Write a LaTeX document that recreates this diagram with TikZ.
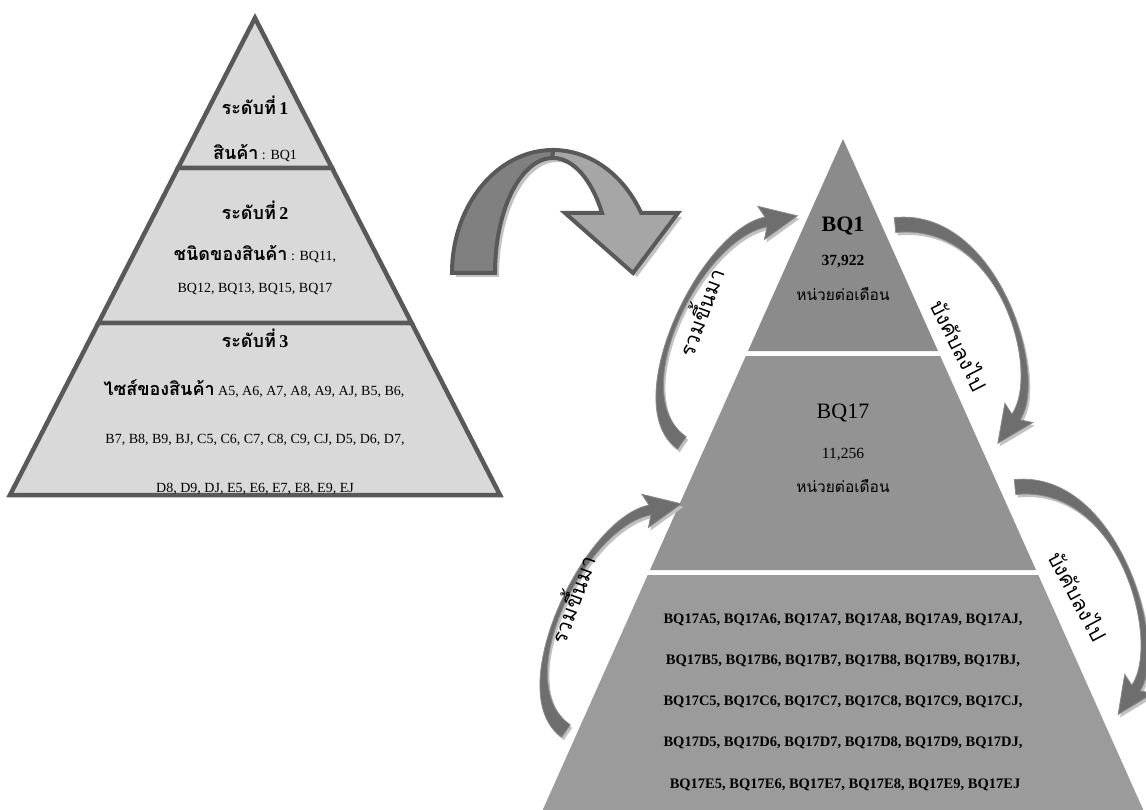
\documentclass[tikz,border=0pt]{standalone}
\usepackage{fontspec}
\setmainfont{Liberation Serif}
\newfontfamily\thaifont[Script=Thai]{Loma}
\usetikzlibrary{calc}

\definecolor{edgegray}{HTML}{595959}
\definecolor{lightfill}{HTML}{D9D9D9}
\definecolor{tierA}{HTML}{8B8B8B}
\definecolor{tierB}{HTML}{939393}
\definecolor{tierC}{HTML}{9B9B9B}
\definecolor{bendback}{HTML}{808080}
\definecolor{bendfront}{HTML}{A6A6A6}
\definecolor{softshadow}{HTML}{C2C2C2}
\definecolor{loopfill}{HTML}{6E6E6E}
\definecolor{loopedge}{HTML}{8C8C8C}

% Thai text sizes
\newcommand\thaihead{\thaifont\bfseries\fontsize{18}{21}\selectfont}
\newcommand\thaismall{\thaifont\fontsize{15.5}{18}\selectfont}
\newcommand\thailoop{\thaifont\fontsize{21}{24}\selectfont}

% tapered curved arrow: #1 prefix, #2..#5 Bezier points (last one = base of head)
\newcommand\loopingarrow[5]{%
  \coordinate (#1p0) at #2;
  \coordinate (#1p1) at #3;
  \coordinate (#1p2) at #4;
  \coordinate (#1p3) at #5;
  \coordinate (#1a0) at ($(#1p0)!7.5pt!90:(#1p1)$);
  \coordinate (#1a1) at ($(#1p1)!7.5pt!-90:(#1p0)$);
  \coordinate (#1a2) at ($(#1p2)!5pt!90:(#1p3)$);
  \coordinate (#1a3) at ($(#1p3)!5pt!-90:(#1p2)$);
  \coordinate (#1b0) at ($(#1p0)!7.5pt!-90:(#1p1)$);
  \coordinate (#1b1) at ($(#1p1)!7.5pt!90:(#1p0)$);
  \coordinate (#1b2) at ($(#1p2)!5pt!-90:(#1p3)$);
  \coordinate (#1b3) at ($(#1p3)!5pt!90:(#1p2)$);
  \coordinate (#1tip) at ($(#1p3)!-32pt!(#1p2)$);
  \coordinate (#1bk) at ($(#1p3)!5pt!(#1p2)$);
  \coordinate (#1h1) at ($(#1bk)!17pt!-90:(#1p2)$);
  \coordinate (#1h2) at ($(#1bk)!17pt!90:(#1p2)$);
  \begin{scope}[transform canvas={shift={(2pt,-3pt)}}]
    \fill[softshadow] (#1a0) .. controls (#1a1) and (#1a2) .. (#1a3) -- (#1h1) -- (#1tip)
      -- (#1h2) -- (#1b3) .. controls (#1b2) and (#1b1) .. (#1b0) -- cycle;
  \end{scope}
  \filldraw[loopfill, draw=loopedge, line width=0.8pt, line join=miter]
    (#1a0) .. controls (#1a1) and (#1a2) .. (#1a3) -- (#1h1) -- (#1tip)
    -- (#1h2) -- (#1b3) .. controls (#1b2) and (#1b1) .. (#1b0) -- cycle;
}

\tikzset{
  level/.style={fill=lightfill, draw=edgegray, line width=4.5pt, line join=miter},
  txt/.style={anchor=base, inner sep=0pt, font=\fontsize{14}{16}\selectfont},
  bigid/.style={anchor=base, inner sep=0pt, font=\fontsize{22}{24}\selectfont},
  qty/.style={anchor=base, inner sep=0pt, font=\fontsize{15.5}{18}\selectfont},
  sku/.style={anchor=base, inner sep=0pt, font=\bfseries\fontsize{14.5}{16}\selectfont},
  looplabel/.style={inner sep=0pt, font=\thailoop},
}

\begin{document}
\begin{tikzpicture}[x=1pt,y=-1pt]
\useasboundingbox (0,0) rectangle (1146,810);

% ---------- three-level product hierarchy (left) ----------
\coordinate (lA) at (255,18);
\coordinate (lBl) at (178,168);  \coordinate (lBr) at (332,168);
\coordinate (lCl) at (98.4,323); \coordinate (lCr) at (411.6,323);
\coordinate (lDl) at (10,495);   \coordinate (lDr) at (500,495);
\draw[level] (lCl) -- (lCr) -- (lDr) -- (lDl) -- cycle;
\draw[level] (lBl) -- (lBr) -- (lCr) -- (lCl) -- cycle;
\draw[level] (lA) -- (lBr) -- (lBl) -- cycle;

\node[txt] (lv1) at (255,115) {{\thaihead ระดับที่} \textbf{\fontsize{18}{21}\selectfont 1}};
\node[txt] (lv1t) at (255,160) {{\thaihead สินค้า} : BQ1};
\node[txt] (lv2) at (255,220) {{\thaihead ระดับที่} \textbf{\fontsize{18}{21}\selectfont 2}};
\node[txt] (lv2t) at (255,261) {{\thaihead ชนิดของสินค้า} : BQ11,};
\node[txt] (lv2u) at (255,293) {BQ12, BQ13, BQ15, BQ17};
\node[txt] (lv3) at (255,348) {{\thaihead ระดับที่} \textbf{\fontsize{18}{21}\selectfont 3}};
\node[txt] (lv3t) at (254,395) {{\thaihead ไซส์ของสินค้า} A5, A6, A7, A8, A9, AJ, B5, B6,};
\node[txt] (lv3u) at (255,443) {B7, B8, B9, BJ, C5, C6, C7, C8, C9, CJ, D5, D6, D7,};
\node[txt] (lv3v) at (255,492) {D8, D9, DJ, E5, E6, E7, E8, E9, EJ};

% ---------- twisted arrow between the two pyramids ----------
\begin{scope}[shift={(4,4)}]
  \fill[softshadow] (452,273) arc[start angle=180, end angle=270, x radius=101, y radius=123]
    -- (553,158) arc[start angle=270, end angle=180, x radius=58, y radius=115] -- cycle;
  \fill[softshadow] (553,150) arc[start angle=270, end angle=330.8, x radius=101, y radius=123]
    -- (678,213) -- (633,273) -- (565,213) -- (602,213)
    arc[start angle=328.6, end angle=270, x radius=58, y radius=115] -- cycle;
\end{scope}
\filldraw[fill=bendback, draw=edgegray, line width=4pt, line join=miter]
  (452,273) arc[start angle=180, end angle=270, x radius=101, y radius=123]
  -- (553,158) arc[start angle=270, end angle=180, x radius=58, y radius=115] -- cycle;
\filldraw[fill=bendfront, draw=edgegray, line width=4pt, line join=miter]
  (553,150) arc[start angle=270, end angle=330.8, x radius=101, y radius=123]
  -- (678,213) -- (633,273) -- (565,213) -- (602,213)
  arc[start angle=328.6, end angle=270, x radius=58, y radius=115] -- cycle;

% ---------- forecast pyramid (right) ----------
\coordinate (rA) at (843,139);
\fill[tierA] (rA) -- (938,351) -- (748,351) -- cycle;
\fill[tierB] (745.8,356) -- (940.2,356) -- (1036,570) -- (650,570) -- cycle;
\fill[tierC] (647.7,575) -- (1038.3,575) -- (1146,816) -- (540,816) -- cycle;

\node[bigid, font=\bfseries\fontsize{22}{24}\selectfont] (bq1) at (843,232) {BQ1};
\node[qty, font=\bfseries\fontsize{15.5}{18}\selectfont] (bq1n) at (843,266) {37,922};
\node[anchor=base, inner sep=0pt] (bq1u) at (843,301) {\thaismall หน่วยต่อเดือน};
\node[bigid] (bq17) at (843,418) {BQ17};
\node[qty] (bq17n) at (843,458) {11,256};
\node[anchor=base, inner sep=0pt] (bq17u) at (843,492) {\thaismall หน่วยต่อเดือน};

\node[sku] (s1) at (843,623) {BQ17A5, BQ17A6, BQ17A7, BQ17A8, BQ17A9, BQ17AJ,};
\node[sku] (s2) at (843,664) {BQ17B5, BQ17B6, BQ17B7, BQ17B8, BQ17B9, BQ17BJ,};
\node[sku] (s3) at (843,705) {BQ17C5, BQ17C6, BQ17C7, BQ17C8, BQ17C9, BQ17CJ,};
\node[sku] (s4) at (843,746) {BQ17D5, BQ17D6, BQ17D7, BQ17D8, BQ17D9, BQ17DJ,};
\node[sku] (s5) at (845,788) {BQ17E5, BQ17E6, BQ17E7, BQ17E8, BQ17E9, BQ17EJ};

% ---------- aggregation / disaggregation loops ----------
\loopingarrow{up1}{(682,443)}{(620,400)}{(700,235)}{(766,222)}
\loopingarrow{up2}{(566,731)}{(504,688)}{(584,523)}{(650,510)}
\loopingarrow{dn1}{(895,225)}{(1000,215)}{(1045,375)}{(1016,417)}
\loopingarrow{dn2}{(1015,487)}{(1120,477)}{(1165,645)}{(1136,688)}

\node[looplabel, rotate=70] (agg1) at (699,312) {รวมขึ้นมา};
\node[looplabel, rotate=70] (agg2) at (571,599) {รวมขึ้นมา};
\node[looplabel, rotate=-63] (dis1) at (960,345) {บังคับลงไป};
\node[looplabel, rotate=-62] (dis2) at (1079,596) {บังคับลงไป};

\end{tikzpicture}
\end{document}
